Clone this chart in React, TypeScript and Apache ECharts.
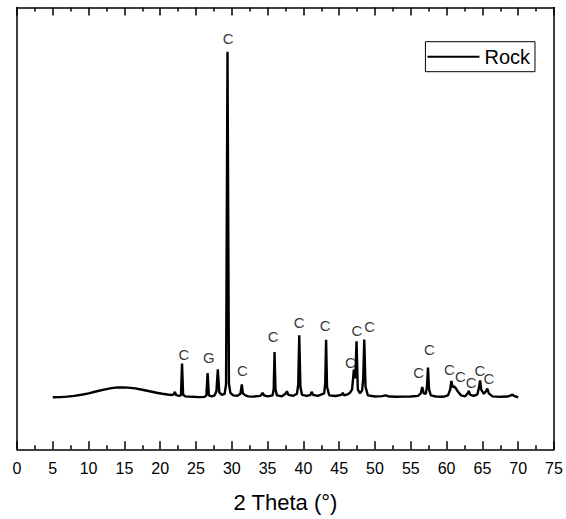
import React, { useEffect, useRef } from "react";
import * as echarts from "echarts";

const twoTheta: number[] = [
  5.0, 6.0, 7.0, 8.0, 9.0, 10.0, 11.0, 12.0, 13.0, 14.0, 14.8, 15.5, 16.5, 17.5, 18.5, 19.5, 20.3, 21.0, 21.6, 21.9,
  22.05, 22.2, 22.6, 22.9, 23.05, 23.2, 23.5, 24.5, 25.5, 26.2, 26.45, 26.62, 26.8, 27.2, 27.6, 27.85, 28.05, 28.25, 28.6, 29.0,
  29.2, 29.4, 29.6, 29.8, 30.2, 30.8, 31.2, 31.4, 31.55, 31.9, 32.3, 33.0, 34.0, 34.3, 34.5, 35.0, 35.7, 35.85, 35.97, 36.1,
  36.3, 37.0, 37.5, 37.7, 37.9, 38.6, 39.1, 39.28, 39.42, 39.58, 39.8, 40.5, 41.0, 41.15, 41.35, 42.0, 42.9, 43.05, 43.17, 43.3,
  43.6, 44.5, 45.3, 45.5, 45.7, 46.2, 46.5, 46.8, 47.05, 47.25, 47.42, 47.6, 47.9, 48.2, 48.35, 48.5, 48.68, 49.0, 50.0, 51.0,
  51.5, 52.0, 53.0, 54.0, 55.0, 56.0, 56.4, 56.6, 56.8, 57.1, 57.25, 57.4, 57.55, 57.8, 58.5, 59.5, 60.2, 60.5, 60.67, 60.85,
  61.05, 61.3, 61.6, 62.0, 62.6, 62.95, 63.1, 63.3, 63.8, 64.3, 64.55, 64.68, 64.85, 65.2, 65.5, 65.68, 65.9, 66.4, 67.5, 68.5,
  69.0, 69.2, 69.4, 70.0,
];
const intensity: number[] = [
  40, 44, 54, 70, 92, 120, 156, 190, 220, 238, 240, 234, 220, 192, 162, 132, 112, 96, 86, 100,
  150, 90, 70, 80, 714, 90, 60, 50, 44, 48, 80, 526, 80, 60, 80, 160, 600, 140, 90, 110,
  300, 6952, 320, 130, 80, 70, 110, 300, 120, 80, 60, 54, 70, 130, 80, 60, 80, 200, 946, 200,
  80, 60, 110, 160, 90, 70, 110, 300, 1280, 250, 90, 70, 90, 150, 90, 70, 120, 320, 1194, 250,
  80, 66, 90, 130, 80, 100, 130, 200, 594, 420, 1160, 200, 120, 180, 400, 1194, 250, 80, 56, 64,
  80, 56, 50, 54, 56, 70, 120, 246, 120, 110, 250, 634, 200, 80, 56, 50, 80, 200, 366, 240,
  260, 220, 150, 80, 60, 120, 166, 90, 70, 100, 250, 380, 190, 110, 160, 214, 120, 60, 50, 56,
  80, 94, 70, 40,
];

// Phase annotations (C = calcite, G = other)
const peakLabels: string[] = ["C", "C", "G", "C", "C", "C", "C", "C", "C", "C", "C", "C", "C", "C", "C", "C", "C"];
const labelTheta: number[] = [29.48, 23.32, 26.78, 31.48, 35.78, 39.41, 43.05, 46.55, 47.49, 49.25, 56.11, 57.6, 60.4, 61.94, 63.44, 64.64, 65.9];
const labelY: number[] = [7226, 900, 846, 580, 1260, 1540, 1480, 734, 1380, 1460, 546, 994, 594, 460, 346, 580, 414];

const xTicks = { min: 0, max: 75, interval: 5 };
const seriesName = "Rock";
const xTitle = "2 Theta (°)";

const FONT = "'Liberation Sans', Arial, sans-serif";

export default function App() {
  const ref = useRef<HTMLDivElement>(null);
  useEffect(() => {
    if (!ref.current) return;
    const chart = echarts.init(ref.current, undefined, { renderer: "svg" });
    const lineData = twoTheta.map((t, i) => [t, intensity[i]]);
    const labelData = peakLabels.map((n, i) => ({ name: n, value: [labelTheta[i], labelY[i]] }));
    const axisLine = { show: true, onZero: false, lineStyle: { color: "#000", width: 1.5 } };
    const xCommon = {
      type: "value" as const,
      min: xTicks.min,
      max: xTicks.max,
      interval: xTicks.interval,
      axisLine,
      axisTick: { show: true, inside: true, length: 8, lineStyle: { color: "#000", width: 1.5 } },
      minorTick: { show: true, splitNumber: 2, length: 4, lineStyle: { color: "#000", width: 1.5 } },
      splitLine: { show: false },
      minorSplitLine: { show: false },
    };
    const yCommon = {
      type: "value" as const,
      min: -1000,
      max: 7840,
      axisLine,
      axisTick: { show: false },
      axisLabel: { show: false },
      splitLine: { show: false },
    };
    chart.setOption({
      animation: false,
      backgroundColor: "#fff",
      grid: { left: 17, right: 12, top: 7.5, bottom: 69.7, containLabel: false },
      legend: {
        data: [seriesName],
        right: 31,
        top: 41.7,
        icon: "rect",
        itemWidth: 52,
        itemHeight: 2,
        borderColor: "#000",
        borderWidth: 1,
        padding: [5, 5, 5, 2],
        textStyle: { fontSize: 20, color: "#000", fontFamily: FONT },
      },
      xAxis: [
        {
          ...xCommon,
          position: "bottom",
          axisLabel: { show: true, fontSize: 16, color: "#000", fontFamily: FONT, margin: 11 },
          name: xTitle,
          nameLocation: "middle",
          nameGap: 42,
          nameTextStyle: { fontSize: 22, color: "#000", fontFamily: FONT },
        },
        {
          ...xCommon,
          position: "top",
          axisLabel: { show: false },
        },
      ],
      yAxis: [
        { ...yCommon, position: "left" },
        { ...yCommon, position: "right" },
      ],
      series: [
        {
          name: seriesName,
          type: "line",
          data: lineData,
          xAxisIndex: 0,
          yAxisIndex: 0,
          symbol: "none",
          showSymbol: false,
          lineStyle: { color: "#000", width: 2.4 },
          itemStyle: { color: "#000" },
        },
        {
          name: "labels",
          type: "scatter",
          data: labelData,
          xAxisIndex: 0,
          yAxisIndex: 0,
          symbolSize: 1,
          itemStyle: { color: "transparent" },
          label: {
            show: true,
            position: "inside",
            formatter: "{b}",
            fontSize: 15,
            color: "#000",
            fontFamily: FONT,
          },
          silent: true,
        },
      ],
    });
    return () => chart.dispose();
  }, []);
  return <div ref={ref} style={{ position: "fixed", left: 0, top: 0, width: 566, height: 519 }} />;
}
